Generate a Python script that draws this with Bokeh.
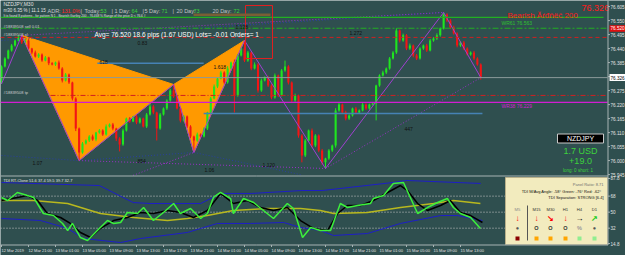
from bokeh.plotting import figure
from bokeh.models import Range1d, ColumnDataSource
from bokeh.embed import file_html
from bokeh.resources import INLINE
from bokeh.core.properties import value

# ---------------- chart data ----------------
first_open = 76.315
closes = [
    76.370, 76.401, 76.433, 76.452, 76.472, 76.488, 76.464, 76.472, 76.440, 76.425,
    76.409, 76.417, 76.393, 76.405, 76.382, 76.378, 76.385, 76.362, 76.315, 76.338,
    76.307, 76.244, 76.126, 76.032, 76.067, 76.079, 76.095, 76.083, 76.110, 76.118,
    76.103, 76.134, 76.142, 76.126, 76.087, 76.063, 76.118, 76.165, 76.154, 76.173,
    76.150, 76.165, 76.134, 76.181, 76.213, 76.189, 76.126, 76.181, 76.205, 76.236,
    76.275, 76.252, 76.205, 76.158, 76.173, 76.134, 76.095, 76.079, 76.103, 76.095,
    76.126, 76.189, 76.244, 76.291, 76.323, 76.346, 76.307, 76.362, 76.385, 76.256,
    76.413, 76.440, 76.393, 76.425, 76.362, 76.378, 76.275, 76.315, 76.327, 76.295,
    76.248, 76.334, 76.256, 76.354, 76.370, 76.307, 76.236, 76.256, 76.099, 76.020,
    76.079, 76.118, 76.059, 76.099, 76.040, 75.993, 76.008, 76.040, 76.059, 76.197,
    76.220, 76.189, 76.165, 76.177, 76.205, 76.189, 76.197, 76.220, 76.205, 76.220,
    76.224, 76.295, 76.334, 76.346, 76.362, 76.401, 76.425, 76.511, 76.472, 76.492,
    76.440, 76.452, 76.413, 76.401, 76.440, 76.452, 76.433, 76.472, 76.480, 76.492,
    76.519, 76.574, 76.550, 76.523, 76.499, 76.452, 76.464, 76.440, 76.417, 76.425,
    76.401, 76.378, 76.326,
]
upper_wick_pts = [
    4, 5, 3, 6, 4, 4, 4, 6, 5, 3,
    7, 5, 4, 6, 3, 5, 4, 8, 5, 6,
    4, 3, 5, 4, 6, 4, 5, 7, 3, 6,
    5, 8, 4, 6, 3, 5, 7, 4, 6, 3,
    8, 5, 4, 6, 9, 5, 3, 6, 4, 5,
    7, 24, 5, 3, 6, 4, 5, 3, 7, 4,
    5, 3, 6, 8, 4, 7, 5, 9, 4, 12,
    6, 5, 32, 6, 4, 8, 5, 7, 4, 6,
    5, 8, 4, 6, 23, 5, 4, 7, 3, 5,
    6, 4, 8, 5, 4, 6, 3, 5, 4, 9,
    6, 4, 7, 5, 3, 6, 4, 8, 5, 4,
    6, 3, 5, 7, 4, 6, 5, 9, 4, 7,
    5, 8, 4, 6, 5, 4, 7, 6, 5, 8,
    4, 8, 5, 6, 7, 5, 4, 6, 5, 4,
    6, 5, 4,
]
lower_wick_pts = [
    14, 4, 3, 5, 4, 3, 6, 4, 5, 7,
    4, 6, 5, 3, 7, 4, 6, 5, 8, 4,
    6, 8, 10, 32, 5, 4, 6, 5, 7, 4,
    6, 5, 4, 7, 10, 27, 5, 4, 6, 3,
    7, 5, 4, 6, 4, 7, 47, 5, 4, 6,
    5, 6, 4, 8, 5, 6, 7, 47, 5, 6,
    4, 6, 5, 3, 6, 4, 7, 5, 4, 67,
    5, 4, 6, 5, 7, 4, 8, 5, 4, 6,
    7, 5, 6, 4, 5, 8, 6, 5, 9, 27,
    6, 5, 8, 6, 7, 9, 24, 5, 6, 8,
    5, 6, 7, 5, 4, 6, 5, 4, 6, 5,
    4, 66, 5, 4, 6, 5, 4, 6, 8, 5,
    6, 5, 7, 6, 4, 5, 6, 4, 5, 6,
    5, 4, 6, 5, 4, 7, 5, 6, 4, 5,
    6, 5, 8,
]

price_ticks = [76.605, 76.550, 76.495, 76.440, 76.385, 76.330, 76.275,
               76.220, 76.165, 76.110, 76.055, 76.000, 75.945]
time_label_bars = [0, 8, 16, 24, 32, 40, 48, 56, 64, 72, 80, 88, 96, 104, 112, 120, 128, 136]
time_labels = ["12 Mar 2019", "12 Mar 21:00", "13 Mar 01:00", "13 Mar 05:00", "13 Mar 09:00",
               "13 Mar 13:00", "13 Mar 17:00", "13 Mar 21:00", "14 Mar 01:00", "14 Mar 05:00",
               "14 Mar 09:00", "14 Mar 13:00", "14 Mar 17:00", "14 Mar 21:00", "15 Mar 01:00",
               "15 Mar 05:00", "15 Mar 09:00", "15 Mar 13:00"]

# harmonic pattern X A B C D and zigzag
pattern_bar = [6, 23, 51, 57, 72]
pattern_price = [76.492, 76.000, 76.299, 76.032, 76.472]
zigzag_bar = [0, 6, 23, 51, 57, 72, 96, 131, 142]
zigzag_price = [76.301, 76.492, 76.000, 76.299, 76.032, 76.472, 75.969, 76.582, 76.326]

navy_dot_bar0 = [0, 23, 57, 0]
navy_dot_p0 = [76.020, 76.000, 76.032, 76.472]
navy_dot_bar1 = [23, 57, 88.6, 131]
navy_dot_p1 = [76.000, 76.032, 75.945, 76.582]
purple_dot_bar0 = [23, 96, 6, 39]
purple_dot_p0 = [76.000, 75.969, 76.492, 75.942]
purple_dot_bar1 = [96, 142, 131, 57]
purple_dot_p1 = [75.969, 76.326, 76.582, 76.032]

# horizontal levels
order_price = 76.520
sl_price = 76.484
tp_price = 76.256
wr61_price = 76.563
wr38_price = 76.229
bid_price = 76.326
fib_bar0 = [28.4, 59.9]
fib_bar1 = [59.9, 142.5]
fib_price = [76.382, 76.185]
ratio_text = ["0.83", "618", "1.618", "1.128", "1.272", "1.07", "854", "1.06", "1.120", "447"]

# TDI indicator (bar index, value)
tdi_ticks = [87.8, 68, 50, 32, 14.8]
tdi_tick_labels = ["87.8", "68", "50", "32", "14.8"]
tdi_levels = [68, 50, 32]
upper_bar = [0, 29, 39, 44, 59, 65, 74, 89, 95, 116, 120, 142]
upper_val = [83.3, 79.9, 60.8, 59.7, 59.7, 71.0, 71.0, 74.3, 74.3, 83.3, 85.6, 82.2]
lower_bar = [0, 11.6, 19.6, 24.3, 35.3, 41.2, 55.1, 59, 64, 73.8, 83.6, 88.6, 94.5,
             98.4, 108.4, 118.2, 130.1, 135.1, 142.5]
lower_val = [42.9, 40.6, 31.7, 20.4, 15.9, 20.4, 27.2, 31.7, 37.3, 37.3, 38.4, 32.8, 29.4,
             23.8, 26.0, 37.3, 46.2, 46.2, 40.6]
yellow_bar = [0, 9.5, 19.6, 29.3, 39.1, 49.2, 55.1, 61, 68.7, 78.8, 88.6, 94.5, 98.4,
              108.4, 118.2, 128, 133.9, 141.9]
yellow_val = [63.1, 63.1, 59.7, 48.5, 44.0, 40.6, 42.9, 46.2, 51.9, 54.1, 54.1, 51.9, 48.5,
              49.6, 55.2, 59.7, 63.1, 59.7]
green_bar = [0, 1.8, 4.7, 7.7, 9.5, 12.4, 15.4, 18.1, 19.6, 21.0, 23.4, 25.5, 28.4, 31.4,
             33.2, 35.3, 37.3, 40.3, 42.1, 45.0, 48.0, 51.0, 53.0, 56.0, 59.0, 61.0, 62.8,
             64.9, 67.9, 68.7, 71.7, 74.7, 77.6, 80.6, 84.7, 86.5, 89.2, 91.6, 94.5, 97.5,
             100.4, 102.5, 105.5, 109.3, 110.2, 113.2, 116.1, 119.1, 123.3, 126.2, 129.2,
             132.1, 133.9, 136.0, 139.0, 141.9]
green_val = [66.5, 63.1, 72.1, 68.7, 66.5, 48.5, 46.2, 37.3, 29.4, 37.3, 21.5, 18.2, 29.4, 40.6,
             37.3, 38.4, 49.6, 48.5, 55.2, 40.6, 49.6, 59.7, 48.5, 54.1, 42.9, 48.5, 66.5,
             72.1, 65.3, 48.5, 65.3, 60.8, 51.9, 42.9, 59.7, 54.1, 21.5, 32.8, 29.4, 29.4,
             59.7, 55.2, 57.5, 59.7, 65.3, 68.7, 82.2, 83.3, 48.5, 55.2, 60.8,
             65.3, 55.2, 48.5, 44.0, 31.7]
black_bar = [0, 4.7, 7.7, 10.7, 13.6, 17.5, 20.4, 23.4, 26.4, 29.3, 33.2, 37.3, 41.2, 45.0,
             49.2, 53.0, 56.9, 61.0, 64.9, 68.7, 72.9, 76.7, 80.6, 84.7, 88.6, 92.4, 96.6,
             99.6, 102.5, 106.4, 110.2, 114.4, 118.2, 120.3, 123.3, 126.2, 130.1, 133.0,
             136.0, 139.0, 142.5]
black_val = [63.1, 66.5, 68.7, 63.1, 48.5, 44.0, 37.3, 27.2, 21.5, 31.7, 40.6, 44.0, 49.6, 48.5,
             51.9, 49.6, 44.0, 51.9, 71.0, 59.7, 63.1, 55.2, 51.9, 55.2, 40.6, 31.7, 29.4,
             48.5, 57.5, 57.5, 63.1, 72.1, 79.9, 74.3, 59.7, 51.9, 57.5, 63.1,
             49.6, 46.2, 38.4]

# panel contents
panel_lines = ["Panel Ratio: 8.71", "TDI M/Avg Angle: -58°  Green: -76°  Red: -62°",
               "TDI Separation: STRONG [6.4]"]
panel_cols = ["M5", "M15", "M30", "H1", "H4", "D1"]
panel_arrows = ["↓", "↓", "↘", "↓", "→", "↗"]
panel_arrow_colors = ["#FF0000", "#FF0000", "#FF0000", "#FF0000", "#000000", "#22CC22"]
panel_marks = ["●", "O", "O", "O", "%", "●"]
panel_mark_colors = ["#555555", "#333333", "#333333", "#333333", "#999999", "#555555"]
panel_square_colors = ["#8B0000", "#FFA500", "#FFA500", "#FFA500", "#90EE90", "#90EE90"]

# ---------------- layout helpers (pixel -> data) ----------------
BAR_PX, X0_PX = 3.375, 1.0
P_TOP, P_PER_PX = 76.629, 0.003929
T_TOP, T_PER_PX = 287.69, 1.123


def bx(px):
    return (px - X0_PX) / BAR_PX


def py(px):
    return P_TOP - px * P_PER_PX


def ty(px):
    return T_TOP - px * T_PER_PX


BG = "#2F4F4F"
UP = "#1FE51F"
DN = "#F21515"
FONT = "Liberation Sans"
TXT = "#E2E2E2"
GRN = "#3CD23C"

p = figure(width=625, height=255, min_border=0, x_axis_location=None, y_axis_location=None,
           toolbar_location=None, output_backend="svg",
           x_range=Range1d(bx(0), bx(625)), y_range=Range1d(py(255), py(0)))
p.extra_y_ranges = {"tdi": Range1d(ty(255), ty(0))}
p.grid.visible = False
p.background_fill_color = BG
p.border_fill_color = BG
p.outline_line_color = None


def put_text(xs, ys, texts, color, size, align="left", baseline="middle", bold=False, yr=None):
    kw = dict(x=xs, y=ys, text=texts, text_color=color, text_font_size=size,
              text_align=align, text_baseline=baseline, text_font=value(FONT),
              text_font_style="bold" if bold else "normal")
    if yr:
        kw["y_range_name"] = yr
    p.text(**kw)


# ---------------- main pane ----------------
# harmonic pattern triangles (behind candles)
tri_xs = [[pattern_bar[0], pattern_bar[1], pattern_bar[2]],
          [pattern_bar[2], pattern_bar[3], pattern_bar[4]]]
tri_ys = [[pattern_price[0], pattern_price[1], pattern_price[2]],
          [pattern_price[2], pattern_price[3], pattern_price[4]]]
p.patches(xs=tri_xs, ys=tri_ys, fill_color="#FF9900", line_color="#FF9900", line_width=1)

# candles
idx = list(range(len(closes)))
opens = [first_open] + closes[:-1]
highs = [max(o, c) + u / 1000 for o, c, u in zip(opens, closes, upper_wick_pts)]
lows = [min(o, c) - l / 1000 for o, c, l in zip(opens, closes, lower_wick_pts)]
cols = [UP if c >= o else DN for o, c in zip(opens, closes)]
src = ColumnDataSource(dict(x=idx, o=opens, c=closes, h=highs, l=lows,
                            top=[max(o, c) for o, c in zip(opens, closes)],
                            bot=[min(o, c) for o, c in zip(opens, closes)], col=cols))
p.segment(x0="x", y0="l", x1="x", y1="h", line_color="col", line_width=1, source=src)
p.vbar(x="x", width=0.62, top="top", bottom="bot", fill_color="col", line_color=None, source=src)

# dotted helper lines
p.segment(x0=navy_dot_bar0, y0=navy_dot_p0, x1=navy_dot_bar1, y1=navy_dot_p1,
          line_color="#2A3FA0", line_width=1, line_dash="1 2")
p.segment(x0=purple_dot_bar0, y0=purple_dot_p0, x1=purple_dot_bar1, y1=purple_dot_p1,
          line_color="#9B30C8", line_width=1, line_dash="1 2")

# zigzag
p.line(zigzag_bar, zigzag_price, line_color="#A040D0", line_width=1)

# level lines
L, R = bx(0), bx(607)
p.segment(x0=[L], y0=[bid_price], x1=[R], y1=[bid_price], line_color="#8C9A9A", line_width=1)
p.segment(x0=[L], y0=[wr38_price], x1=[R], y1=[wr38_price], line_color="#D21ED2", line_width=1.3)
p.segment(x0=[L], y0=[wr61_price], x1=[bx(603)], y1=[wr61_price], line_color="#22B022", line_width=1.2)
p.segment(x0=[L], y0=[order_price], x1=[R], y1=[order_price], line_color="#22B022",
          line_width=1, line_dash="6 2 2 2")
p.segment(x0=[L], y0=[sl_price], x1=[R], y1=[sl_price], line_color="#D02020",
          line_width=1, line_dash="4 3")
p.segment(x0=[bx(50)], y0=[tp_price], x1=[R], y1=[tp_price], line_color="#D02020",
          line_width=1, line_dash="5 2 1 2")
p.segment(x0=fib_bar0, y0=fib_price, x1=fib_bar1, y1=fib_price, line_color="#4682B4", line_width=1.5)

# red box around D
p.quad(left=bx(245), right=bx(272), top=py(5), bottom=py(58), fill_color=None,
       line_color="#E02020", line_width=1)

# ratio labels
ratio_px = [(137, 42), (99, 61), (213, 66), (235, 26), (349, 32), (32, 162),
            (137, 160), (204, 169), (262, 164), (404, 128)]
put_text([bx(a) for a, b in ratio_px], [py(b) for a, b in ratio_px], ratio_text,
         "#111111", "5px")

# top texts
put_text([bx(3)], [py(3)], ["NZDJPY,M30"], TXT, "5px")
put_text([bx(3)], [py(10)], ["m30  6.35 %  |  11.1 15"], TXT, "4.5px")
adr_pieces = ["ADR:", "131.0%", "|", "Today:", "53", "|", "1 Day:", "64", "|", "5 Day:", "71",
              "|", "20 Day:", "73", "20 Day:", "72"]
adr_px = [47, 61, 80, 84, 100, 111, 114, 131, 142, 144, 161, 172, 176, 193, 212, 233]
adr_cols = ["#C4C4C4", "#FF2424", "#C4C4C4", "#C4C4C4", GRN, "#C4C4C4", "#C4C4C4", GRN,
            "#C4C4C4", "#C4C4C4", GRN, "#C4C4C4", "#C4C4C4", GRN, "#C4C4C4", GRN]
put_text([bx(a) for a in adr_px], [py(10)] * len(adr_px), adr_pieces, adr_cols, "5.5px")
p.quad(left=bx(193), right=bx(270), top=py(13), bottom=py(15.5), fill_color="#7A5F35", line_color=None)
put_text([bx(3)], [py(15.5)],
         ["It is found 8 patterns  -  for pattern N 1 - Bearish Gartley 200  -  76.468 % Range of the price D < 76.6 #"],
         TXT, "3.2px")
put_text([bx(3), bx(3), bx(3)], [py(26), py(34), py(92)],
         ["#18839508 sell 0.01", "#18839508 sl", "#18839508 tp"], "#D0D0D0", "4px")
put_text([bx(94)], [py(34)], ["Avg= 76.520  18.6 pips (1.67 USD)  Lots= -0.01  Orders= 1"],
         "#FFFFFF", "6.5px")
put_text([bx(507)], [py(15)], ["Bearish Ăŕđňëč 200"], "#FF1A1A", "8px")
put_text([bx(581)], [py(7)], ["76.326"], "#FF1A1A", "9px")
put_text([bx(501)], [py(22.5)], ["WR61  76.563"], "#2EC02E", "5px")
put_text([bx(501)], [py(105)], ["WR38  76.229"], "#D21ED2", "5px")

# account box
p.quad(left=bx(557), right=bx(603), top=py(133.5), bottom=py(142.5), fill_color="#000000",
       line_color="#C8C8C8", line_width=1)
put_text([bx(580)], [py(138)], ["NZDJPY"], "#FFFFFF", "7px", align="center")
put_text([bx(580), bx(580)], [py(150), py(160)], ["1.7 USD", "+19.0"], GRN, "9px", align="center")
put_text([bx(580)], [py(170)], ["long: 0     short: 1"], GRN, "4.5px", align="center")

# ---------------- indicator pane ----------------
p.segment(x0=[L] * 3, y0=tdi_levels, x1=[R] * 3, y1=tdi_levels, line_color="#C8C8C8",
          line_width=1, line_dash="1 2", y_range_name="tdi")
p.line(upper_bar, upper_val, line_color="#1E1EC8", line_width=1, y_range_name="tdi")
p.line(lower_bar, lower_val, line_color="#1E1EC8", line_width=1, y_range_name="tdi")
p.line(yellow_bar, yellow_val, line_color="#B8B81E", line_width=1.5, y_range_name="tdi")
p.line(black_bar, black_val, line_color="#000000", line_width=1.5, y_range_name="tdi")
p.line(green_bar, green_val, line_color="#3CF03C", line_width=1.5, y_range_name="tdi")
put_text([bx(3)], [py(180)], ["TDI RT-Clone 51.6 37.4 59.5 39.7 32.7"], TXT, "4px")

# status panel
p.quad(left=bx(505), right=bx(607), top=py(177), bottom=py(244), fill_color="#F2EBBE",
       line_color="#B8B08A", line_width=1)
put_text([bx(603)] * 3, [py(184), py(190.5), py(197)], panel_lines,
         ["#707070", "#111111", "#111111"], "4px", align="right")
col_px = [517, 536, 550, 565, 579, 594]
cx = [bx(a) for a in col_px]
put_text(cx, [py(209)] * 6, panel_cols, ["#8A8A8A"] + ["#333333"] * 5, "4.2px", align="center")
put_text(cx, [py(218)] * 6, panel_arrows, panel_arrow_colors, "8px", align="center", bold=True)
put_text(cx, [py(227)] * 6, panel_marks, panel_mark_colors, "5.5px", align="center", bold=True)
p.scatter(x=cx, y=[py(238)] * 6, marker="square", size=4, fill_color=panel_square_colors,
          line_color=None)
p.segment(x0=[bx(527)], y0=[py(205)], x1=[bx(527)], y1=[py(240)], line_color="#555555", line_width=1)

# ---------------- frame lines and axis labels ----------------
FR = "#A8B4B4"
p.segment(x0=[L, L, bx(607.5)], y0=[py(175.5), py(244.5), py(0)],
          x1=[bx(607.5), bx(607.5), bx(607.5)], y1=[py(175.5), py(244.5), py(244.5)],
          line_color=FR, line_width=1)

# price axis
p.segment(x0=[bx(607.5)] * len(price_ticks), y0=price_ticks, x1=[bx(609.5)] * len(price_ticks),
          y1=price_ticks, line_color=FR, line_width=1)
put_text([bx(610)] * len(price_ticks), price_ticks, [f"{v:.3f}" for v in price_ticks], TXT, "4.6px")
p.quad(left=bx(609), right=bx(625), top=order_price + 3 * P_PER_PX,
       bottom=order_price - 3.5 * P_PER_PX, fill_color="#E01010", line_color=None)
put_text([bx(610)], [order_price], [f"{order_price:.3f}"], "#FFFFFF", "4.6px")
p.quad(left=bx(609), right=bx(625), top=bid_price + 3.5 * P_PER_PX,
       bottom=bid_price - 3.5 * P_PER_PX, fill_color="#FFFFFF", line_color=None)
put_text([bx(610)], [bid_price], [f"{bid_price:.3f}"], "#000000", "4.6px")

# indicator axis
p.segment(x0=[bx(607.5)] * len(tdi_ticks), y0=tdi_ticks, x1=[bx(609.5)] * len(tdi_ticks),
          y1=tdi_ticks, line_color=FR, line_width=1, y_range_name="tdi")
put_text([bx(610)] * len(tdi_ticks), tdi_ticks, tdi_tick_labels, TXT, "4.6px", yr="tdi")

# time axis
p.segment(x0=time_label_bars, y0=[py(244.5)] * len(time_label_bars), x1=time_label_bars,
          y1=[py(246.5)] * len(time_label_bars), line_color=FR, line_width=1)
put_text(time_label_bars, [py(249.5)] * len(time_label_bars), time_labels, TXT, "4px")

open("out.html", "w").write(file_html(p, INLINE))
